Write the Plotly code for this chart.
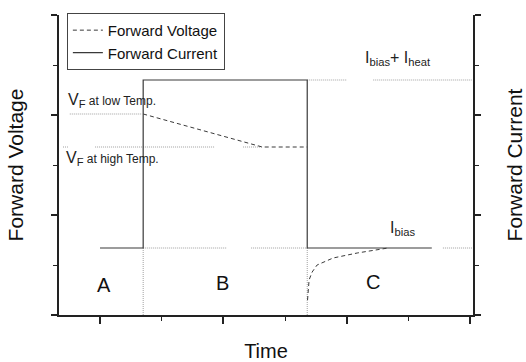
import plotly.graph_objects as go

# ---- data (time in arbitrary units, signals in arbitrary units) ----
current_t = [0.0, 0.70, 0.70, 3.36, 3.36, 5.38]
current_v = [1.34, 1.34, 4.70, 4.70, 1.34, 1.34]

voltage_t = [0.70, 2.63, 3.36, None, 3.365, 3.39, 3.44, 3.52, 3.78, 4.17, 4.67]
voltage_v = [4.02, 3.36, 3.36, None, 0.30, 0.70, 0.86, 1.00, 1.14, 1.24, 1.34]

# dotted guide lines (gray)
guide_t = [-0.49, 0.68, None,
           -0.60, -0.52, None, -0.08, 1.86, None, 2.32, 2.63, None,
           0.70, 2.06, None, 2.45, 3.36, None, 5.56, 6.03, None,
           3.36, 4.00, None, 4.43, 6.03, None,
           0.70, 0.70, None, 3.36, 3.36]
guide_v = [4.02, 4.02, None,
           3.36, 3.36, None, 3.36, 3.36, None, 3.36, 3.36, None,
           1.34, 1.34, None, 1.34, 1.34, None, 1.34, 1.34, None,
           4.70, 4.70, None, 4.70, 4.70, None,
           0.0, 1.34, None, 0.0, 1.34]

region_labels = ["A", "B", "C"]
region_t = [0.065, 1.99, 4.43]
region_v = [0.60, 0.64, 0.66]

FONT = "Liberation Sans, Arial, sans-serif"
AXC = "#222222"
LINEC = "#3a3a3a"
GUIDEC = "#a0a0a0"

fig = go.Figure()
fig.add_trace(go.Scatter(x=guide_t, y=guide_v, mode="lines", showlegend=False,
                         line=dict(color=GUIDEC, width=1, dash="1px,1px"), hoverinfo="skip"))
fig.add_trace(go.Scatter(x=voltage_t, y=voltage_v, mode="lines", name="Forward Voltage",
                         line=dict(color=LINEC, width=1, dash="4px,3px")))
fig.add_trace(go.Scatter(x=current_t, y=current_v, mode="lines", name="Forward Current",
                         line=dict(color=LINEC, width=1.2), yaxis="y2"))

ann = []
for lab, t, v in zip(region_labels, region_t, region_v):
    ann.append(dict(x=t, y=v, xref="x", yref="y", text=lab, showarrow=False,
                    font=dict(size=20, color="#111", family=FONT)))
ann += [
    dict(x=-0.55, y=4.30, xref="x", yref="y", xanchor="left", showarrow=False,
         text="V<sub>F</sub><span style='font-size:12px'> at low Temp.</span>",
         font=dict(size=16, color="#222", family=FONT)),
    dict(x=-0.58, y=3.14, xref="x", yref="y", xanchor="left", showarrow=False,
         text="V<sub>F</sub><span style='font-size:12px'> at high Temp.</span>",
         font=dict(size=16, color="#222", family=FONT)),
    dict(x=4.26, y=5.14, xref="x", yref="y", xanchor="left", showarrow=False,
         text="I<sub>bias</sub>+ I<sub>heat</sub>",
         font=dict(size=16, color="#222", family=FONT)),
    dict(x=4.67, y=1.74, xref="x", yref="y", xanchor="left", showarrow=False,
         text="I<sub>bias</sub>",
         font=dict(size=16, color="#222", family=FONT)),
]

fig.update_layout(
    width=526, height=362,
    margin=dict(l=59, r=53, t=15, b=47),
    paper_bgcolor="white", plot_bgcolor="white",
    font=dict(family=FONT, color="#111"),
    annotations=ann,
    showlegend=True,
    legend=dict(x=0.019, y=1.007, xanchor="left", yanchor="top",
                bordercolor="#444", borderwidth=1, bgcolor="white",
                font=dict(size=15, family=FONT, color="#111"),
                tracegroupgap=0),
    xaxis=dict(range=[-0.665, 6.048], showgrid=False, zeroline=False, automargin=False,
               showline=True, linecolor=AXC, linewidth=1.5,
               ticks="outside", tick0=0, dtick=2, ticklen=7, tickwidth=1.5, tickcolor=AXC,
               minor=dict(ticks="outside", dtick=1, tick0=0, ticklen=4, tickcolor=AXC, tickwidth=1.2),
               showticklabels=False,
               title=dict(text="Time", font=dict(size=20, family=FONT, color="#111"), standoff=25)),
    yaxis=dict(range=[0, 6], showgrid=False, zeroline=False, automargin=False,
               showline=True, linecolor=AXC, linewidth=1.5,
               ticks="outside", tick0=0, dtick=2, ticklen=6, tickwidth=1.5, tickcolor=AXC,
               minor=dict(ticks="outside", dtick=1, tick0=0, ticklen=4, tickcolor=AXC, tickwidth=1.2),
               showticklabels=False,
               title=dict(text="Forward Voltage", font=dict(size=21, family=FONT, color="#111"), standoff=22)),
    yaxis2=dict(range=[0, 6], overlaying="y", side="right", showgrid=False, zeroline=False, automargin=False,
                showline=True, linecolor=AXC, linewidth=1.5,
                ticks="outside", tick0=0, dtick=2, ticklen=6, tickwidth=1.5, tickcolor=AXC,
                minor=dict(ticks="outside", dtick=1, tick0=0, ticklen=4, tickcolor=AXC, tickwidth=1.2),
                showticklabels=False,
                title=dict(text="Forward Current", font=dict(size=21, family=FONT, color="#111"), standoff=28)),
)

fig.write_html("out.html")
